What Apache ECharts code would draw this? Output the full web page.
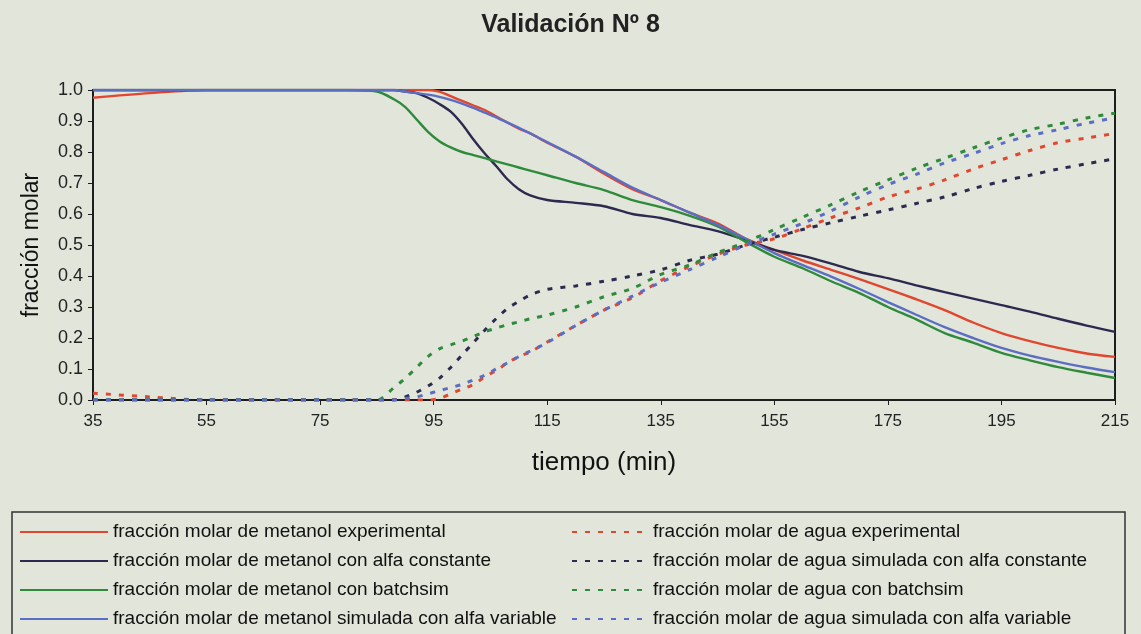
<!DOCTYPE html>
<html>
<head>
<meta charset="utf-8">
<script src="https://cdn.jsdelivr.net/npm/echarts@6/dist/echarts.min.js"></script>
<style>
  html, body { margin: 0; padding: 0; background: #e1e5da; }
  #main { width: 1141px; height: 634px; }
</style>
</head>
<body>
<div id="main"></div>
<script>
// tiempo (min)
const times = [35, 45, 55, 65, 75, 80, 85, 88, 90, 92, 94, 96, 98, 100, 102, 104, 106, 108, 110, 112,
  115, 120, 125, 130, 135, 140, 145, 150, 155, 160, 165, 170, 175, 180, 185, 190, 195, 200, 205, 210, 215];

// fraccion molar de metanol
const metanolExp = [0.975, 0.99, 1.0, 1.0, 1.0, 1.0, 1.0, 1.0, 1.0, 1.0, 1.0, 0.995, 0.98, 0.965, 0.95, 0.935,
  0.915, 0.895, 0.875, 0.86, 0.83, 0.785, 0.73, 0.68, 0.645, 0.605, 0.57, 0.52, 0.484, 0.45, 0.42, 0.39,
  0.358, 0.325, 0.29, 0.25, 0.216, 0.19, 0.168, 0.15, 0.139];
const metanolConst = [1.0, 1.0, 1.0, 1.0, 1.0, 1.0, 1.0, 1.0, 0.995, 0.99, 0.975, 0.955, 0.93, 0.89, 0.84, 0.795,
  0.755, 0.712, 0.68, 0.66, 0.645, 0.636, 0.625, 0.60, 0.587, 0.565, 0.545, 0.515, 0.484, 0.465, 0.44, 0.413,
  0.393, 0.37, 0.348, 0.327, 0.306, 0.285, 0.262, 0.24, 0.22];
const metanolBatch = [1.0, 1.0, 1.0, 1.0, 1.0, 1.0, 0.995, 0.97, 0.945, 0.905, 0.865, 0.835, 0.815, 0.8, 0.79, 0.78,
  0.77, 0.76, 0.75, 0.74, 0.725, 0.70, 0.677, 0.645, 0.622, 0.595, 0.56, 0.51, 0.462, 0.425, 0.383, 0.345,
  0.30, 0.26, 0.216, 0.185, 0.152, 0.128, 0.106, 0.088, 0.071];
const metanolVar = [1.0, 1.0, 1.0, 1.0, 1.0, 1.0, 1.0, 1.0, 0.995, 0.99, 0.985, 0.978, 0.968, 0.956, 0.942, 0.927,
  0.912, 0.895, 0.878, 0.86, 0.832, 0.785, 0.735, 0.685, 0.645, 0.605, 0.565, 0.52, 0.474, 0.435, 0.398, 0.358,
  0.316, 0.275, 0.235, 0.2, 0.168, 0.143, 0.123, 0.105, 0.09];

// fraccion molar de agua
const aguaExp = [0.022, 0.01, 0, 0, 0, 0, 0, 0, 0, 0, 0, 0.005, 0.02, 0.035, 0.05, 0.075,
  0.095, 0.12, 0.14, 0.155, 0.187, 0.24, 0.29, 0.33, 0.385, 0.43, 0.47, 0.5, 0.52, 0.553, 0.588, 0.62,
  0.655, 0.68, 0.71, 0.745, 0.775, 0.805, 0.83, 0.845, 0.86];
const aguaConst = [0, 0, 0, 0, 0, 0, 0, 0, 0.01, 0.025, 0.045, 0.07, 0.105, 0.145, 0.185, 0.225,
  0.262, 0.295, 0.318, 0.339, 0.357, 0.368, 0.383, 0.4, 0.42, 0.45, 0.47, 0.5, 0.525, 0.55, 0.572, 0.593,
  0.613, 0.634, 0.655, 0.682, 0.705, 0.725, 0.745, 0.762, 0.778];
const aguaBatch = [0, 0, 0, 0, 0, 0, 0, 0.04, 0.07, 0.105, 0.14, 0.165, 0.178, 0.19, 0.205, 0.22,
  0.232, 0.243, 0.252, 0.262, 0.274, 0.3, 0.333, 0.36, 0.405, 0.435, 0.475, 0.51, 0.55, 0.59, 0.63, 0.672,
  0.71, 0.747, 0.78, 0.813, 0.845, 0.872, 0.89, 0.91, 0.925];
const aguaVar = [0, 0, 0, 0, 0, 0, 0, 0, 0.005, 0.01, 0.02, 0.03, 0.04, 0.05, 0.065, 0.08,
  0.1, 0.12, 0.14, 0.158, 0.185, 0.24, 0.29, 0.335, 0.38, 0.42, 0.46, 0.5, 0.535, 0.57, 0.61, 0.655,
  0.695, 0.728, 0.765, 0.795, 0.827, 0.853, 0.872, 0.893, 0.91];

const xTicks = [35, 55, 75, 95, 115, 135, 155, 175, 195, 215];

const metanolNames = [
  'fracción molar de metanol experimental',
  'fracción molar de metanol con alfa constante',
  'fracción molar de metanol con batchsim',
  'fracción molar de metanol simulada con alfa variable'
];
const aguaNames = [
  'fracción molar de agua experimental',
  'fracción molar de agua simulada con alfa constante',
  'fracción molar de agua con batchsim',
  'fracción molar de agua simulada con alfa variable'
];

const colors = ['#e2462e', '#2c2a4f', '#2f8b3c', '#5b6ec4'];
const font = "'Liberation Sans', Arial, sans-serif";

function pairs(values) {
  return times.map((t, i) => [t, values[i]]);
}

function makeSeries(name, values, color, dashed) {
  return {
    name: name,
    type: 'line',
    data: pairs(values),
    smooth: 0.3,
    symbol: 'none',
    lineStyle: {
      color: color,
      width: dashed ? 3 : 2.4,
      type: dashed ? [5, 8] : 'solid'
    },
    itemStyle: { color: color }
  };
}

const chart = echarts.init(document.getElementById('main'));

const series = [];
[metanolExp, metanolConst, metanolBatch, metanolVar].forEach((v, i) => {
  series.push(makeSeries(metanolNames[i], v, colors[i], false));
});
[aguaExp, aguaConst, aguaBatch, aguaVar].forEach((v, i) => {
  series.push(makeSeries(aguaNames[i], v, colors[i], true));
});

const legendText = { fontFamily: font, fontSize: 19, color: '#111', lineHeight: 20 };

chart.setOption({
  backgroundColor: '#e1e5da',
  animation: false,
  title: {
    text: 'Validación Nº 8',
    left: 'center',
    top: 8,
    textStyle: { fontFamily: font, fontSize: 25, fontWeight: 'bold', color: '#222' }
  },
  graphic: [{
    type: 'rect',
    shape: { x: 12, y: 512, width: 1113, height: 140 },
    style: { fill: 'none', stroke: '#333', lineWidth: 1.5 }
  }],
  legend: [{
    data: metanolNames,
    orient: 'vertical',
    left: 14,
    top: 517,
    itemWidth: 88,
    itemHeight: 14,
    itemGap: 9,
    itemStyle: { opacity: 0 },
    textStyle: legendText
  }, {
    data: aguaNames,
    orient: 'vertical',
    left: 566,
    top: 517,
    itemWidth: 76,
    itemHeight: 14,
    itemGap: 9,
    itemStyle: { opacity: 0 },
    textStyle: legendText
  }],
  grid: {
    left: 93,
    right: 26,
    top: 90,
    bottom: 234,
    show: true,
    borderColor: '#1d1d1d',
    borderWidth: 2
  },
  xAxis: {
    type: 'value',
    min: 35,
    max: 215,
    name: 'tiempo (min)',
    nameLocation: 'middle',
    nameGap: 50,
    nameTextStyle: { fontFamily: font, fontSize: 26, color: '#111' },
    axisLine: { lineStyle: { color: '#1d1d1d', width: 2 } },
    axisTick: { show: true, length: 5, lineStyle: { color: '#1d1d1d' }, customValues: xTicks },
    axisLabel: { customValues: xTicks, margin: 13, fontFamily: font, fontSize: 17, color: '#222' },
    splitLine: { show: false }
  },
  yAxis: {
    type: 'value',
    min: 0,
    max: 1,
    interval: 0.1,
    name: 'fracción molar',
    nameLocation: 'middle',
    nameGap: 50,
    nameTextStyle: { fontFamily: font, fontSize: 23, color: '#111' },
    axisLine: { show: true, lineStyle: { color: '#1d1d1d', width: 2 } },
    axisTick: { show: true, length: 5, lineStyle: { color: '#1d1d1d' } },
    axisLabel: {
      margin: 10,
      fontFamily: font,
      fontSize: 18,
      color: '#222',
      formatter: v => v.toFixed(1)
    },
    splitLine: { show: false }
  },
  series: series
});
</script>
</body>
</html>
